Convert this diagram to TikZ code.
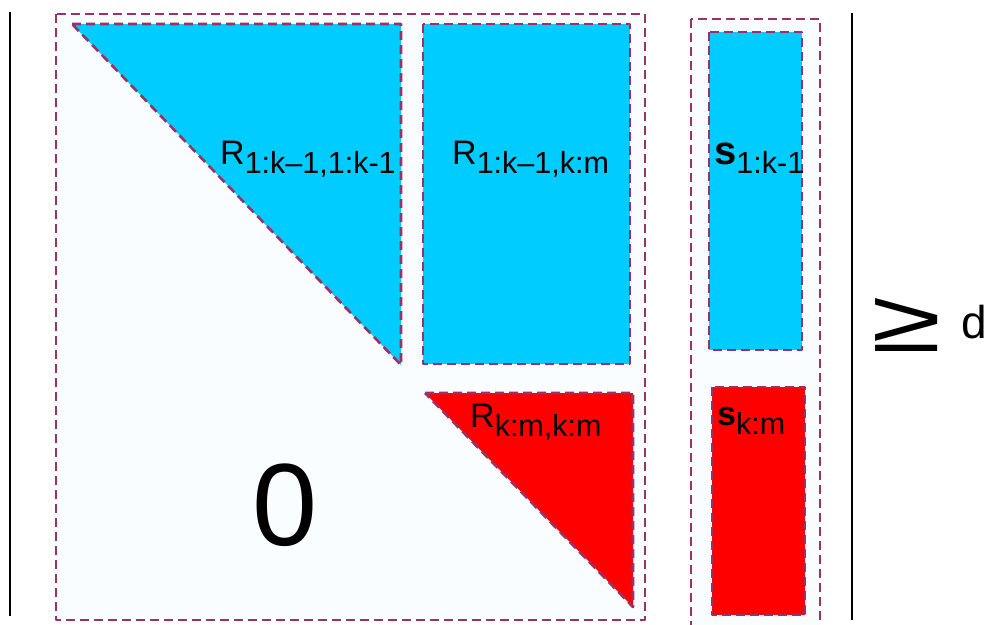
\documentclass[tikz,border=0pt]{standalone}
\usepackage{fontspec}
\setmainfont{Liberation Sans}
\definecolor{bord}{RGB}{153,51,102}
\definecolor{cyanf}{RGB}{0,204,255}
\definecolor{redf}{RGB}{255,0,0}
\definecolor{pale}{RGB}{249,253,255}
\tikzset{
  dashbox/.style={draw=bord, line width=2.6pt, dash pattern=on 9pt off 5pt, line join=round},
  bluepart/.style={dashbox, fill=cyanf},
  redpart/.style={dashbox, fill=redf},
  outerbox/.style={dashbox, fill=pale},
  bar/.style={draw=black, line width=2.5pt},
  lbl/.style={anchor=base west, inner sep=0pt, text=black},
}
\newcommand{\Rlab}[3][34]{{\fontsize{#1}{#1}\selectfont #2}\raisebox{-9pt}{\fontsize{30.5}{30.5}\selectfont #3}}
\begin{document}
\begin{tikzpicture}[x=1pt, y=-1pt]
\useasboundingbox (0,0) rectangle (992,624);
% outer dashed boxes
\draw[outerbox] (56,14) rectangle (645,620);
\draw[outerbox] (691,19) rectangle (820,626);
% blocks
\draw[bluepart] (72,24) -- (401,24) -- (401,365) -- cycle;
\draw[bluepart] (423,24) rectangle (630,364);
\draw[redpart] (425,393) -- (633,393) -- (633,607) -- cycle;
\draw[bluepart] (709,32) rectangle (802,350);
\draw[redpart] (712,387) rectangle (805,615);
% bars
\coordinate (lt) at (10,12); \coordinate (lb) at (10,616);
\coordinate (rt) at (852,13); \coordinate (rb) at (852,620);
\draw[bar] (lt) -- (lb);
\draw[bar] (rt) -- (rb);
% labels
\node[lbl] (r11) at (220,164) {\Rlab{R}{1:k–1,1:k-1}};
\node[lbl] (r12) at (452,164) {\Rlab{R}{1:k–1,k:m}};
\node[lbl] (r22) at (470,427) {\Rlab{R}{k:m,k:m}};
\node[lbl] (s1) at (714,164) {\Rlab[40]{\bfseries s}{1:k-1}};
\node[lbl] (s2) at (717,425) {\Rlab[34]{\bfseries s}{k:m}};
\node[lbl] (zero) at (252,545) {\fontsize{117}{117}\selectfont 0};
\node[lbl] (geq) at (871,351) {\scalebox{1.42}[0.98]{\fontsize{90}{90}\selectfont ≥}};
\node[lbl] (d) at (961,338) {\fontsize{46}{46}\selectfont d};
\end{tikzpicture}
\end{document}
